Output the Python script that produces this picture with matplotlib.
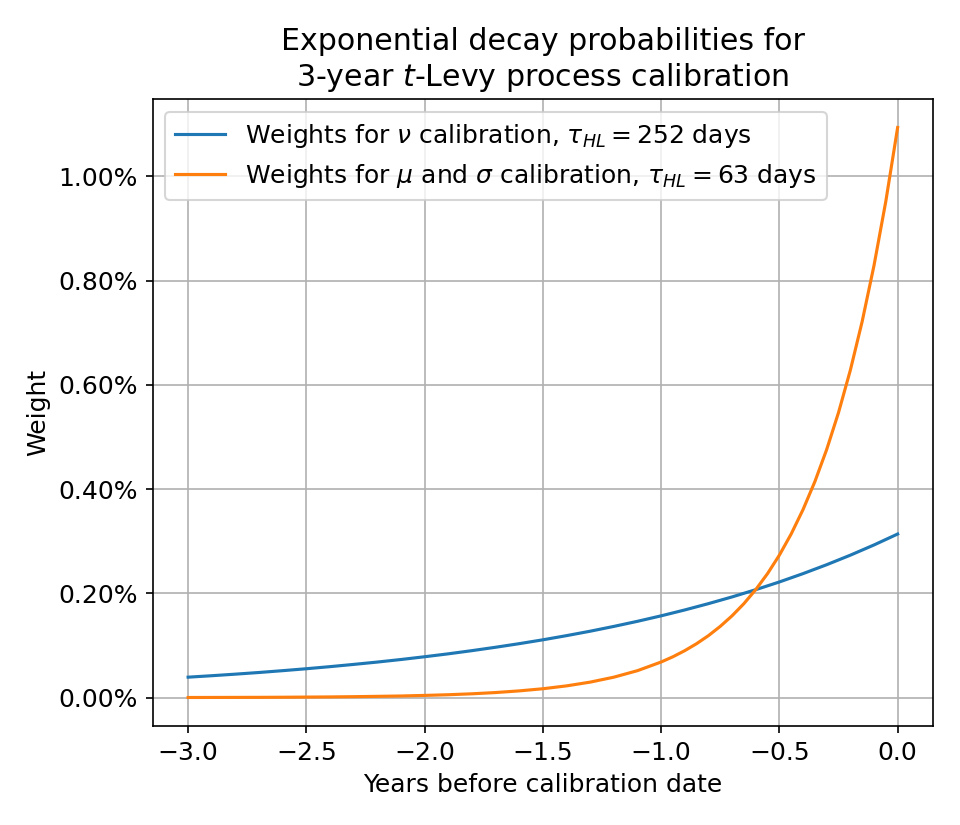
import matplotlib
matplotlib.use("Agg")
import matplotlib.pyplot as plt
from matplotlib.ticker import PercentFormatter

# Weights (in percent), years before calibration date
years_nu = [-3.0, -2.9, -2.8, -2.7, -2.6, -2.5, -2.4, -2.3, -2.2, -2.1,
            -2.0, -1.9, -1.8, -1.7, -1.6, -1.5, -1.4, -1.3, -1.2, -1.1,
            -1.0, -0.9, -0.8, -0.7, -0.6, -0.5, -0.4, -0.3, -0.2, -0.1, 0.0]
weights_nu = [0.0393, 0.0421, 0.0451, 0.0483, 0.0518, 0.0555, 0.0595, 0.0638,
              0.0683, 0.0732, 0.0785, 0.0841, 0.0902, 0.0967, 0.1036, 0.1110,
              0.1190, 0.1275, 0.1367, 0.1465, 0.1570, 0.1683, 0.1804, 0.1933,
              0.2072, 0.2220, 0.2380, 0.2551, 0.2734, 0.2930, 0.3140]

years_mu = [-3.0, -2.9, -2.8, -2.7, -2.6, -2.5, -2.4, -2.3, -2.2, -2.1,
            -2.0, -1.9, -1.8, -1.7, -1.6, -1.5, -1.4, -1.3, -1.2, -1.1,
            -1.0, -0.95, -0.9, -0.85, -0.8, -0.75, -0.7, -0.65, -0.6, -0.55,
            -0.5, -0.45, -0.4, -0.35, -0.3, -0.25, -0.2, -0.15, -0.1, -0.05, 0.0]
weights_mu = [0.0003, 0.0004, 0.0005, 0.0006, 0.0008, 0.0011, 0.0014, 0.0019,
              0.0025, 0.0032, 0.0043, 0.0056, 0.0074, 0.0098, 0.0130, 0.0171,
              0.0226, 0.0298, 0.0393, 0.0518, 0.0684, 0.0785, 0.0902, 0.1036,
              0.1190, 0.1368, 0.1571, 0.1804, 0.2073, 0.2381, 0.2735, 0.3142,
              0.3609, 0.4145, 0.4762, 0.5470, 0.6283, 0.7218, 0.8291, 0.9524,
              1.0940]

label_nu = r"Weights for $\nu$ calibration, $\tau_{HL} = 252$ days"
label_mu = r"Weights for $\mu$ and $\sigma$ calibration, $\tau_{HL} = 63$ days"

plt.rcParams['font.size'] = 12

fig, ax = plt.subplots(figsize=(6.4, 5.5), dpi=150)
fig.subplots_adjust(left=0.159, right=0.972, top=0.88, bottom=0.12)

ax.plot(years_nu, weights_nu, label=label_nu)
ax.plot(years_mu, weights_mu, label=label_mu)

ax.yaxis.set_major_formatter(PercentFormatter(xmax=100, decimals=2))
ax.set_title("Exponential decay probabilities for\n3-year $t$-Levy process calibration",
             fontsize=14.4)
ax.set_xlabel("Years before calibration date")
ax.set_ylabel("Weight")
ax.grid(True)
ax.legend(loc="upper left")

fig.savefig("out.png", dpi=150)
